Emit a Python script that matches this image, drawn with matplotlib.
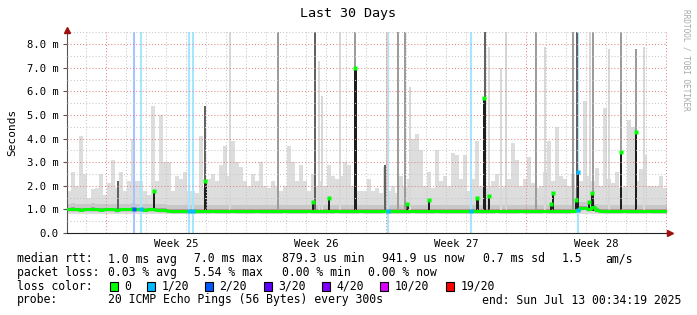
import matplotlib
matplotlib.use('Agg')
import matplotlib.pyplot as plt
from matplotlib.patches import Rectangle
import numpy as np

W, H, DPI = 697, 315, 100
plt.rcParams['font.family'] = ['DejaVu Sans Mono']

# --- data (time axis in days since start of window, 0.2 day bins) ---
bin_size = 0.2
smoke_lo = 0.8
smoke_hi = [1.8, 2.6, 2.0, 4.1, 2.5, 1.5, 1.85, 1.9, 2.5, 1.6, 2.1, 3.1, 1.9, 2.6, 1.8,
            2.2, 4.0, 2.2, 2.2, 1.8, 1.6, 5.4, 2.2, 5.0, 3.0,
            3.0, 1.8, 2.4, 2.3, 2.6, 1.8, 1.8, 1.7, 4.1, 1.9, 2.3, 2.5, 2.2, 2.9, 3.7,
            2.4, 3.9, 3.0, 2.8, 2.2, 2.0, 2.5, 2.2, 3.0, 2.0,
            1.9, 2.2, 2.0, 1.8, 2.0, 3.7, 3.0, 2.2, 2.9, 2.2, 1.8, 2.5, 2.0, 2.2, 2.0,
            2.9, 2.4, 2.3, 2.4, 3.0, 2.9, 2.0, 1.8, 1.8, 1.8,
            2.3, 1.8, 1.9, 1.7, 2.8, 1.8, 2.0, 1.7, 2.4, 2.0, 2.3, 4.0, 4.2, 3.5, 2.0,
            2.6, 1.9, 3.5, 2.2, 2.4, 2.0, 3.4, 3.3, 2.3, 3.3,
            1.8, 2.3, 3.9, 2.0, 1.9, 2.0, 2.2, 2.5, 1.9, 2.0, 2.3, 3.8, 3.1, 2.0, 2.3,
            3.2, 2.1, 1.9, 2.0, 2.6, 3.9, 2.2, 4.5, 2.4, 2.3,
            2.0, 2.5, 1.9, 2.2, 5.6, 2.4, 2.2, 2.75, 2.0, 5.3, 2.3, 2.1, 2.6, 1.9, 2.0,
            4.8, 4.5, 2.2, 2.7, 3.3, 2.0, 2.0, 2.0, 2.4, 1.9]
median = [1.0, 1.01, 1.0, 0.99, 1.0, 1.0, 1.01, 1.0, 0.99, 1.0, 1.0, 1.0, 0.98, 1.0, 1.0,
          1.0, 1.01, 1.0, 1.0, 0.99, 1.0, 1.0, 0.99, 0.97, 0.96,
          0.95, 0.94, 0.94, 0.93, 0.94, 0.95, 0.94, 0.94, 0.93, 0.94, 0.94, 0.95, 0.94, 0.93, 0.94,
          0.94, 0.95, 0.94, 0.94, 0.93, 0.94, 0.94, 0.95, 0.94, 0.94,
          0.94, 0.93, 0.94, 0.94, 0.95, 0.94, 0.94, 0.93, 0.94, 0.94, 0.95, 0.94, 0.94, 0.94, 0.93,
          0.94, 0.94, 0.95, 0.94, 0.94, 0.93, 0.94, 0.94, 0.95, 0.94,
          0.94, 0.93, 0.94, 0.94, 0.95, 0.94, 0.94, 0.93, 0.94, 0.94, 0.94, 0.95, 0.94, 0.93, 0.94,
          0.94, 0.94, 0.95, 0.94, 0.93, 0.94, 0.94, 0.94, 0.93, 0.94,
          0.94, 0.95, 0.94, 0.94, 0.93, 0.94, 0.94, 0.95, 0.94, 0.93, 0.94, 0.94, 0.94, 0.95, 0.94,
          0.93, 0.94, 0.94, 0.94, 0.95, 0.94, 0.93, 0.94, 0.94, 0.94,
          0.94, 0.95, 0.96, 1.05, 1.08, 1.02, 1.1, 0.97, 0.95, 0.94, 0.94, 0.93, 0.94, 0.94, 0.95,
          0.94, 0.94, 0.93, 0.94, 0.94, 0.95, 0.94, 0.94, 0.93, 0.94]

# packet loss periods: day, loss level
loss_days = [3.37, 3.70, 6.12, 6.30, 16.04, 20.20, 25.54]
loss_level = ['2/20', '1/20', '1/20', '1/20', '1/20', '1/20', '1/20']

# narrow smoke spikes: day, top (ms)
light_days = [8.15, 12.60, 12.75, 13.65, 16.00, 17.15, 21.10, 21.70, 21.95, 23.92, 26.15, 27.10, 28.83]
light_top = [8.5, 7.3, 5.8, 8.5, 8.5, 6.2, 7.9, 7.0, 8.5, 7.9, 8.5, 7.8, 7.9]
mid_days = [10.53, 14.42, 16.55, 16.92, 23.45, 25.30, 26.28, 27.69, 28.44]
mid_top = [8.5, 8.5, 8.5, 8.5, 8.5, 8.5, 8.5, 8.5, 7.8]
dark_days = [2.55, 6.92, 12.42, 15.90, 20.88, 25.48]
dark_top = [2.2, 5.4, 8.5, 2.9, 8.5, 8.5]

# high median samples: day, median (ms), loss level
peak_days = [4.36, 6.92, 12.28, 13.10, 14.42, 17.02, 18.10, 20.52, 20.87, 21.10,
             24.18, 24.28, 25.43, 25.55, 26.10, 26.27, 27.69, 28.44]
peak_med = [1.8, 2.2, 1.3, 1.5, 7.0, 1.25, 1.4, 1.5, 5.7, 1.55,
            1.25, 1.7, 1.38, 2.6, 1.3, 1.7, 3.43, 4.27]
peak_loss = ['0', '0', '0', '0', '0', '0', '0', '0', '0', '0',
             '0', '0', '0', '1/20', '0', '0', '0', '0']

loss_names = ['0', '1/20', '2/20', '3/20', '4/20', '10/20', '19/20']
loss_colors = ['#00ff00', '#00b8ff', '#0059ff', '#5e00ff', '#7e00ff', '#dd00ff', '#ff0000']

week_days = [5.45, 12.45, 19.45, 26.45]
week_labels = ['Week 25', 'Week 26', 'Week 27', 'Week 28']

stats_rtt = ['1.0 ms avg', '7.0 ms max', '879.3 us min', '941.9 us now', '0.7 ms sd', '1.5', 'am/s']
stats_loss = ['0.03 % avg', '5.54 % max', '0.00 % min', '0.00 % now']
probe_text = '20 ICMP Echo Pings (56 Bytes) every 300s'
end_text = 'end: Sun Jul 13 00:34:19 2025'

lcolor = dict(zip(loss_names, loss_colors))

# --- figure ---
fig = plt.figure(figsize=(W / DPI, H / DPI), dpi=DPI)
ax = fig.add_axes([67 / W, (H - 233) / H, 600 / W, 200.6 / H])
ax.set_xlim(0, 30)
ax.set_ylim(0, 8.5)


def blend(c, a):
    rgb = np.array(matplotlib.colors.to_rgb(c))
    return tuple(1 - a * (1 - rgb))


edges = np.arange(len(smoke_hi) + 1) * bin_size
hi = np.append(smoke_hi, smoke_hi[-1])
med = np.append(median, median[-1])

ax.fill_between(edges, smoke_lo, hi, step='post', color='#dddddd', lw=0, zorder=2)
ax.fill_between(edges, med - 0.12, med + 0.25, step='post', color='#c8c8c8', lw=0, zorder=2.2)
ax.fill_between(edges, med - 0.07, med + 0.08, step='post', color='#a0a0a0', lw=0, zorder=2.3)

for d, lv in zip(loss_days, loss_level):
    ax.axvline(d, color=blend(lcolor[lv], 0.35), lw=1.5, zorder=2.5)

ax.bar(light_days, np.array(light_top) - 0.95, bottom=0.95, width=0.1,
       color='#d8d8d8', lw=0, zorder=3)
ax.bar(mid_days, np.array(mid_top) - 0.95, bottom=0.95, width=0.1,
       color='#9c9c9c', lw=0, zorder=3.1)
ax.bar(dark_days, np.array(dark_top) - 0.95, bottom=0.95, width=0.1,
       color='#626262', lw=0, zorder=3.2)
ax.bar(peak_days, np.array(peak_med) - 0.95, bottom=0.95, width=0.11,
       color='#1e1e1e', lw=0, zorder=3.3)

# grid
for k in range(30):
    d = 0.95 + k
    major = abs((d - 1.95) % 7) < 1e-6
    ax.axvline(d, color='#e08888' if major else '#c8c8c8', lw=0.75,
               ls=(0, (1, 2)), zorder=4)
for k in range(1, 18):
    v = k * 0.5
    ax.axhline(v, color='#e08888' if k % 2 == 0 else '#c8c8c8', lw=0.75,
               ls=(0, (1, 2)), zorder=4)

ax.step(edges, med, where='post', color='#00ff00', lw=2.1, zorder=5)
for d, lv in zip(loss_days, loss_level):
    i = int(d / bin_size)
    ax.plot([d], [median[i]], marker='s', ms=2.3, mec='none', color=lcolor[lv], zorder=6)
for d, m, lv in zip(peak_days, peak_med, peak_loss):
    ax.plot([d], [m], marker='s', ms=2.3, mec='none', color=lcolor[lv], zorder=6)

# axes
for s in ['top', 'right']:
    ax.spines[s].set_visible(False)
ax.spines['left'].set_color('#555555')
ax.spines['bottom'].set_color('#222222')
ax.spines['left'].set_linewidth(0.8)
ax.spines['bottom'].set_linewidth(0.8)
ax.plot([0], [8.62], marker='^', ms=4.2, color='#a01010', clip_on=False, zorder=7)
ax.plot([30, 30.1], [0, 0], color='#222222', lw=0.8, clip_on=False)
ax.plot([30.15], [0], marker='>', ms=4.2, color='#a01010', clip_on=False, zorder=7)

ax.set_yticks(range(9))
ax.set_yticklabels(['0.0'] + ['%.1f m' % v for v in range(1, 9)])
ax.set_xticks(week_days)
ax.set_xticklabels(week_labels)
ax.tick_params(axis='y', length=3, width=0.8, color='#555555', pad=3, labelsize=7.6)
ax.tick_params(axis='x', length=0, pad=4, labelsize=7.6)


# texts
def ftxt(x, y, s, ha='left', fontsize=8.3, **kw):
    fig.text(x / W, 1 - y / H, s, va='center', ha=ha, fontsize=fontsize, **kw)


ftxt(348, 13.5, 'Last 30 Days', ha='center', fontsize=9.6)
fig.text(12 / W, 1 - 132 / H, 'Seconds', rotation=90, va='center', ha='center', fontsize=8.0)
fig.text(686 / W, 1 - 60 / H, 'RRDTOOL / TOBI OETIKER', rotation=-90, va='center',
         ha='center', fontsize=5.6, color='#a8a8a8')

ftxt(16.6, 259, 'median rtt:')
for x, s in zip([108.5, 193.7, 281.6, 382, 483, 562, 605], stats_rtt):
    ftxt(x, 259, s)
ftxt(16.6, 272.5, 'packet loss:')
for x, s in zip([108.5, 193.7, 281.6, 367.7], stats_loss):
    ftxt(x, 272.5, s)
ftxt(16.6, 286, 'loss color:')
box_x = [110, 147, 205, 264, 322, 380, 446]
for bx, name, c in zip(box_x, loss_names, loss_colors):
    fig.patches.append(Rectangle((bx / W, 1 - 290.5 / H), 8 / W, 9 / H, transform=fig.transFigure,
                                 facecolor=c, edgecolor='black', lw=0.8))
    ftxt(bx + 14.2, 286, name)
ftxt(16.6, 300, 'probe:')
ftxt(108.5, 300, probe_text)
ftxt(482, 300, end_text)

fig.savefig('out.png', dpi=DPI)
